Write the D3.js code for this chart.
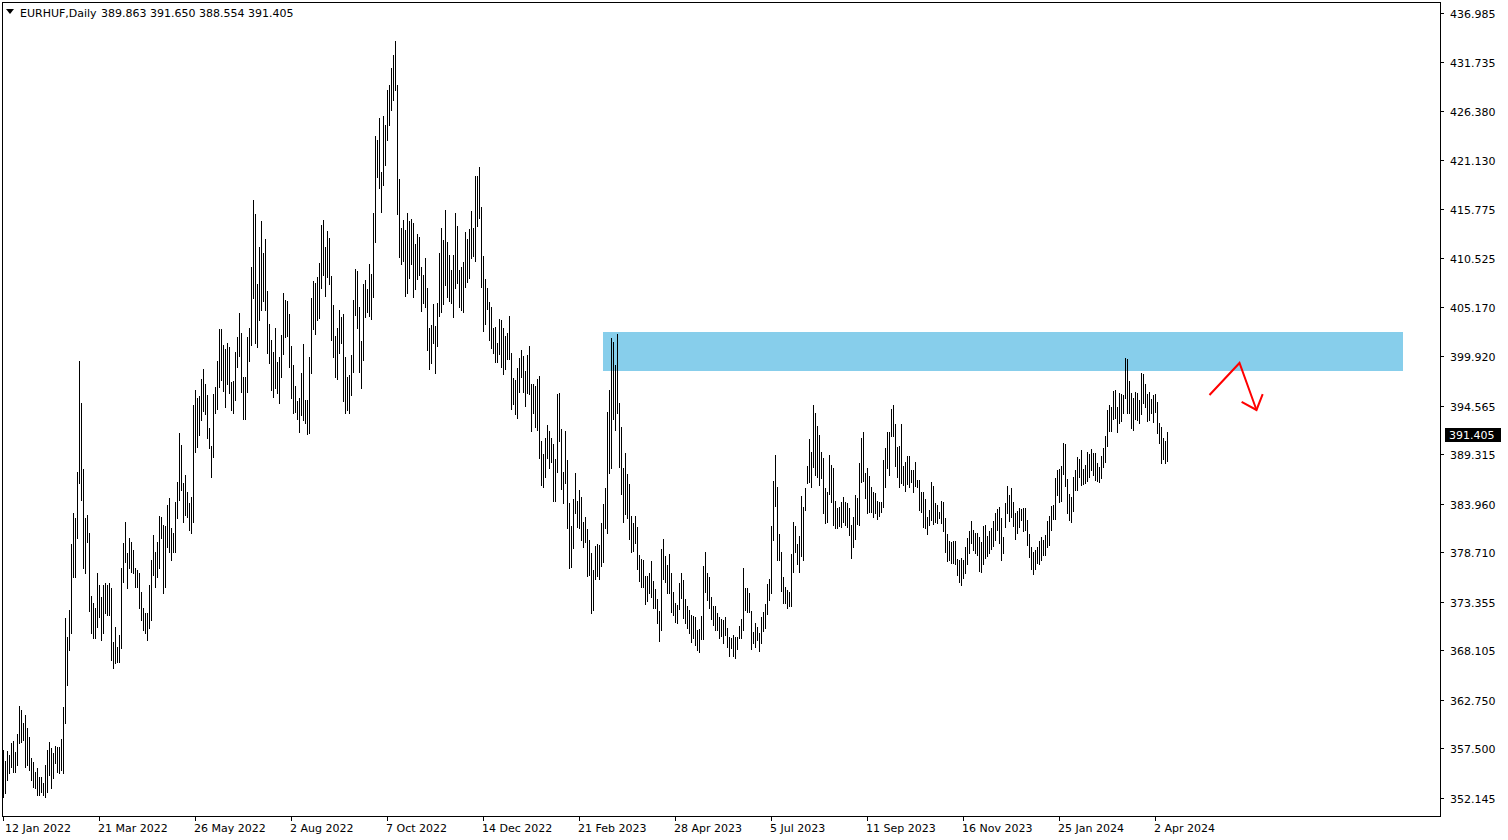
<!DOCTYPE html>
<html><head><meta charset="utf-8">
<script src="https://cdn.jsdelivr.net/npm/d3@7"></script>
<style>
html,body{margin:0;padding:0;background:#fff;}
svg{display:block;font-family:"DejaVu Sans",sans-serif;}
</style></head><body>
<svg id="c" width="1508" height="840"></svg>
<script>
const symbolTitle = "EURHUF,Daily";
const lastOHLC = [389.863, 391.650, 388.554, 391.405];
const currentPrice = 391.405;
const dateLabels = ["12 Jan 2022","21 Mar 2022","26 May 2022","2 Aug 2022","7 Oct 2022","14 Dec 2022","21 Feb 2023","28 Apr 2023","5 Jul 2023","11 Sep 2023","16 Nov 2023","25 Jan 2024","2 Apr 2024"];
const dateLabelBars = [0,48,96,144,192,240,288,336,384,432,480,528,576];
const priceTicks = [436.985,431.735,426.380,421.130,415.775,410.525,405.170,399.920,394.565,389.315,383.960,378.710,373.355,368.105,362.750,357.500,352.145];
const zoneBars = [300, 700];
const zonePrices = [402.5, 398.3];
const arrowBars = [603, 618, 626.5];
const arrowPrices = [395.7, 399.16, 394.08];

const highs = [
357.34,356.19,357.23,356.80,358.06,358.31,357.12,359.06,362.09,361.66,
360.22,361.12,359.68,358.78,356.51,356.08,354.99,355.35,354.45,354.45,
353.73,355.71,357.34,358.24,357.52,356.98,357.77,357.70,357.70,358.52,
362.02,371.56,369.58,372.46,379.60,382.91,382.37,387.41,399.41,394.80,
387.70,382.37,382.73,380.82,373.97,373.18,372.64,376.43,375.16,373.90,
375.16,375.34,375.16,375.34,374.80,369.04,370.66,368.50,369.76,376.97,
379.67,382.01,378.59,380.21,379.85,378.95,376.97,376.79,376.43,374.44,
372.64,372.10,372.10,375.16,377.87,380.57,378.77,379.85,382.62,382.55,
381.65,381.58,383.81,384.53,381.29,380.75,384.17,386.33,391.55,390.29,
386.15,387.05,385.25,383.99,384.71,394.62,396.24,395.34,395.59,397.39,
398.51,396.89,395.70,392.17,390.20,395.81,396.53,399.37,402.83,402.83,
401.10,400.67,401.28,400.92,397.07,397.21,400.31,402.00,404.56,402.36,
397.61,397.61,402.00,402.97,409.49,416.77,415.26,407.69,411.73,414.50,
411.01,412.56,406.97,403.37,401.64,400.38,402.97,399.23,399.77,402.18,
406.76,406.00,405.86,404.45,401.00,398.94,396.67,395.09,395.34,398.04,
401.21,395.16,395.16,399.77,406.14,408.02,407.76,408.48,409.93,414.07,
414.61,411.66,413.42,412.63,408.56,405.42,402.07,402.90,404.88,404.16,
404.45,399.84,397.68,397.86,400.02,405.96,409.31,409.13,405.24,401.53,
407.66,408.12,407.12,409.85,408.77,415.40,423.69,423.25,425.59,419.76,
425.85,424.88,428.66,429.20,431.04,432.45,433.96,429.20,419.05,413.72,
414.62,413.54,415.34,414.51,414.69,414.26,412.02,413.10,412.74,409.57,
408.67,410.55,407.30,402.91,403.27,405.54,403.16,405.61,411.01,413.79,
412.45,415.70,412.20,410.83,409.21,410.83,415.34,413.97,409.21,409.50,
410.04,413.28,412.56,413.61,415.62,413.72,419.41,419.41,420.38,415.98,
410.72,408.23,407.29,405.78,405.24,402.97,403.08,401.35,403.91,403.80,
402.90,402.07,402.43,404.27,400.27,397.50,397.32,398.58,399.73,400.56,
399.91,398.33,400.02,400.99,396.88,396.88,396.67,397.42,397.75,390.72,
389.32,391.01,392.45,391.80,391.08,390.40,388.78,395.80,395.95,392.02,
387.34,391.80,388.67,384.06,381.54,384.42,387.23,384.28,385.43,384.71,
382.01,382.55,381.18,380.03,378.59,376.79,379.38,379.59,379.49,381.90,
383.92,385.68,393.89,396.24,401.89,401.46,398.94,402.29,394.87,392.27,
387.84,389.39,387.16,386.08,382.62,381.90,382.62,381.40,378.41,377.94,
377.87,376.14,376.14,376.50,377.79,375.60,374.69,373.61,372.39,379.02,
380.10,378.30,377.33,378.51,376.50,374.45,373.19,373.01,375.42,376.50,
375.71,373.65,372.90,372.46,371.92,371.85,371.74,370.30,370.38,371.82,
377.22,378.73,376.50,376.07,373.91,372.90,372.90,372.18,371.67,371.46,
371.38,371.67,370.48,369.51,369.40,369.76,369.58,369.58,370.74,371.46,
376.97,374.81,374.81,374.27,372.39,370.12,371.10,370.66,369.94,371.67,
372.28,373.08,375.24,375.82,381.54,386.41,389.22,385.79,380.64,378.70,
376.07,374.99,374.63,374.38,378.52,382.01,381.54,379.56,380.46,384.82,
383.63,385.69,388.06,390.91,389.50,394.62,393.72,392.35,391.38,389.58,
388.86,385.61,385.25,389.22,388.14,387.85,384.25,383.45,383.56,384.10,
384.71,384.17,383.99,383.45,381.65,382.55,384.89,384.53,388.39,391.02,
391.74,387.31,387.85,386.98,385.79,385.25,385.07,384.25,384.17,384.10,
388.68,389.94,391.74,391.74,394.19,394.62,392.57,390.12,390.22,392.57,
388.06,388.50,389.11,389.11,387.60,387.60,388.42,386.51,386.51,385.25,
385.25,384.43,382.55,383.27,386.26,385.90,383.99,383.81,383.09,384.25,
384.17,382.37,380.64,379.96,379.85,379.96,379.95,377.94,377.86,378.04,
377.86,379.31,380.21,381.00,382.11,381.11,380.75,380.75,380.39,379.84,
381.54,381.65,380.46,381.00,381.36,382.08,382.91,383.34,383.63,382.44,
380.39,384.06,385.86,384.89,385.68,384.17,382.91,383.16,383.45,383.34,
383.45,383.45,382.19,380.64,379.31,378.76,378.94,379.23,379.95,380.39,
380.03,380.57,382.08,382.62,383.70,383.81,386.69,387.59,387.66,388.02,
390.47,390.40,386.58,385.00,384.71,386.80,387.59,388.96,388.78,389.75,
387.66,388.13,389.50,389.32,389.86,389.39,389.39,388.31,387.95,389.10,
389.93,391.27,394.07,394.61,394.36,396.13,396.24,394.36,395.95,395.80,
395.70,399.66,399.55,397.21,395.88,395.34,396.06,395.95,395.16,398.11,
397.96,396.85,395.80,396.06,395.23,395.70,395.80,394.97,392.63,392.20,
391.08,390.76,391.65];

const lows = [
352.29,352.65,354.09,354.81,355.53,354.99,354.99,355.71,358.06,358.24,
358.42,355.53,355.71,355.17,354.09,353.37,353.19,352.47,352.47,352.83,
352.47,352.29,352.83,354.63,353.19,354.27,355.89,354.99,354.81,355.17,
354.81,360.22,364.36,368.14,369.94,376.07,376.07,380.21,386.15,384.35,
376.97,376.43,379.78,372.39,369.94,369.40,369.40,370.66,371.74,369.22,
369.94,372.10,371.92,371.92,367.06,366.16,366.70,366.88,366.88,368.32,
375.52,377.69,374.80,376.97,376.61,376.43,374.98,374.98,372.64,371.38,
370.30,369.94,369.22,370.48,371.38,376.25,374.98,376.07,376.97,380.21,
374.26,374.98,379.31,378.77,377.87,378.77,378.77,382.37,384.35,385.43,
382.01,382.73,382.55,381.11,380.75,382.01,389.50,390.11,391.37,392.99,
394.00,393.64,391.01,389.93,386.80,389.00,393.79,394.19,396.60,397.32,
396.17,394.37,396.89,395.88,394.08,393.72,395.16,398.76,399.95,395.99,
393.14,393.14,395.99,399.41,401.10,406.22,401.28,400.92,403.80,404.88,
405.86,404.88,400.27,399.19,396.24,395.52,396.49,395.95,394.80,397.68,
400.09,402.00,402.11,398.76,395.34,393.79,393.90,393.07,391.74,393.54,
393.00,392.64,391.48,391.63,398.04,402.79,402.29,403.80,403.98,407.30,
408.66,406.43,408.41,407.66,401.64,399.84,397.68,397.43,400.27,401.28,
395.09,393.79,394.08,393.79,395.70,398.22,404.34,402.90,398.22,396.42,
399.48,404.16,404.70,404.23,403.87,406.32,412.27,419.22,418.03,415.51,
418.39,420.56,423.26,424.88,426.50,427.58,428.66,415.26,410.58,409.86,
410.22,406.44,406.76,408.38,409.86,406.33,407.12,408.20,408.67,404.82,
405.68,405.25,400.57,398.51,399.13,401.36,398.05,401.00,404.28,404.71,
405.54,407.59,406.33,405.90,405.61,404.10,407.30,407.84,405.25,404.89,
404.71,407.34,407.95,408.31,410.47,410.73,410.22,414.00,414.80,407.40,
402.65,403.33,404.99,401.64,400.74,400.20,399.23,399.23,400.13,398.76,
397.93,398.47,399.55,399.55,394.15,394.69,393.61,393.17,395.98,397.61,
395.98,394.54,395.88,395.77,391.84,393.71,392.27,391.91,388.92,385.97,
385.79,386.87,388.92,387.77,388.49,384.28,384.28,387.41,390.76,385.54,
383.99,386.22,381.36,376.96,377.07,379.13,382.98,381.47,381.29,380.03,
379.31,379.77,376.14,376.24,372.17,372.46,375.78,376.14,375.78,377.22,
377.69,381.29,380.82,387.30,387.84,393.10,391.91,393.79,387.95,385.00,
382.01,382.84,382.44,380.10,378.69,378.84,379.74,376.86,375.63,374.98,
374.98,373.11,373.47,374.26,373.83,372.64,372.64,371.02,369.15,370.30,
375.78,375.52,374.26,374.26,372.28,371.92,371.20,371.02,372.54,373.73,
371.64,371.02,370.48,369.94,369.04,369.47,368.68,368.14,367.89,369.30,
369.30,374.45,373.55,372.72,371.49,370.84,370.30,370.30,369.40,369.65,
368.86,369.76,368.50,367.53,368.32,367.49,367.24,368.21,369.40,369.47,
370.30,372.46,372.28,372.28,368.21,368.86,368.43,369.22,368.07,368.86,
370.23,370.50,372.00,373.55,374.27,380.03,383.74,377.87,377.87,374.52,
373.19,373.19,372.72,372.94,372.94,376.61,378.77,377.44,376.61,378.34,
377.87,383.27,386.15,386.26,385.79,387.96,387.06,386.87,385.97,386.69,
382.91,381.90,382.01,384.97,384.17,381.65,381.29,381.36,381.54,381.47,
381.94,381.65,381.47,380.57,378.12,379.31,380.14,381.72,381.65,386.26,
386.41,384.61,382.91,383.09,383.09,382.55,382.91,382.30,382.66,383.09,
383.63,385.79,387.78,387.06,391.31,391.31,388.06,386.87,385.79,386.15,
385.97,385.36,386.05,385.79,386.33,385.25,385.90,385.79,383.27,383.02,
381.47,381.36,380.64,381.65,382.19,381.72,382.01,381.83,382.37,381.83,
381.00,378.77,377.76,377.87,377.51,377.51,377.40,376.24,375.52,375.16,
375.88,376.42,377.40,378.59,379.67,378.94,378.59,378.40,376.71,376.60,
377.43,378.04,378.30,378.66,379.02,379.38,380.03,381.11,379.67,377.86,
378.66,381.47,382.91,382.11,382.55,381.54,380.13,380.75,381.47,382.19,
381.00,381.11,379.49,378.15,376.89,376.35,376.86,377.50,377.40,377.86,
378.40,378.40,379.31,379.49,381.11,382.26,382.30,384.89,384.17,384.28,
387.16,385.86,382.98,382.19,382.01,383.20,385.43,385.43,386.87,385.97,
386.04,386.15,386.44,386.87,387.59,387.05,386.51,386.40,386.33,386.76,
387.95,388.49,390.22,391.84,391.84,393.07,393.17,391.73,392.71,392.92,
393.71,395.34,393.79,393.71,392.17,391.91,393.07,392.99,392.71,393.64,
394.87,394.36,392.92,392.99,393.79,392.81,393.89,391.62,390.54,388.31,
388.74,388.38,388.554];

const svg = d3.select("#c");
const W = 1508, H = 840;
const plotL = 2, plotR = 1440, plotT = 2, plotB = 816;

const x = d3.scaleLinear().domain([0, 700]).range([3.5, 1403.5]);
const y = d3.scaleLinear().domain([352.145, 436.985]).range([798, 13]);

svg.append("rect").attr("width", W).attr("height", H).attr("fill", "#fff");

// support / resistance zone
svg.append("rect")
  .attr("x", Math.round(x(zoneBars[0]) - 0.5))
  .attr("y", Math.round(y(zonePrices[0])))
  .attr("width", Math.round(x(zoneBars[1]) - x(zoneBars[0])))
  .attr("height", Math.round(y(zonePrices[1]) - y(zonePrices[0])))
  .attr("fill", "#87CEEB");

// high-low bars
const bars = highs.map((h, i) => ({i, h, l: lows[i]}));
svg.append("g").attr("shape-rendering", "crispEdges")
  .selectAll("line").data(bars).join("line")
  .attr("x1", d => x(d.i)).attr("x2", d => x(d.i))
  .attr("y1", d => Math.round(y(d.h)))
  .attr("y2", d => Math.round(y(d.l)) + 1)
  .attr("stroke", "#000").attr("stroke-width", 1);

// red arrow
const pts = arrowBars.map((b, k) => [x(b), y(arrowPrices[k])]);
svg.append("path").attr("d", d3.line()(pts))
  .attr("fill", "none").attr("stroke", "#ff0000").attr("stroke-width", 2)
  .attr("stroke-linejoin", "miter");
{
  const [x1, y1] = pts[1], [x2, y2] = pts[2];
  const ang = Math.atan2(y1 - y2, x1 - x2);
  const len = 17;
  const wings = [ang - 0.72, ang + 0.72].map(a => [x2 + len * Math.cos(a), y2 + len * Math.sin(a)]);
  svg.append("path").attr("d", d3.line()([wings[0], [x2, y2], wings[1]]))
    .attr("fill", "none").attr("stroke", "#ff0000").attr("stroke-width", 2);
}

// frame
svg.append("rect").attr("x", plotL + 0.5).attr("y", plotT + 0.5)
  .attr("width", plotR - plotL).attr("height", plotB - plotT)
  .attr("fill", "none").attr("stroke", "#000").attr("stroke-width", 1)
  .attr("shape-rendering", "crispEdges");

// right price axis
const ya = svg.append("g").attr("shape-rendering", "crispEdges");
priceTicks.forEach(v => {
  const py = Math.round(y(v)) + 0.5;
  ya.append("line").attr("x1", plotR).attr("x2", plotR + 4).attr("y1", py).attr("y2", py).attr("stroke", "#000");
  svg.append("text").attr("x", 1450).attr("y", py + 4).attr("font-size", 11).attr("fill", "#000").text(v.toFixed(3));
});

// current price label
{
  const py = Math.round(y(currentPrice));
  svg.append("rect").attr("x", 1445).attr("y", py - 7).attr("width", 56).attr("height", 14).attr("fill", "#000");
  svg.append("text").attr("x", 1449).attr("y", py + 4).attr("font-size", 11).attr("fill", "#fff").text(currentPrice.toFixed(3));
}

// bottom date axis
const xa = svg.append("g").attr("shape-rendering", "crispEdges");
dateLabelBars.forEach((b, k) => {
  const px = x(b);
  xa.append("line").attr("x1", px).attr("x2", px).attr("y1", plotB).attr("y2", plotB + 5).attr("stroke", "#000");
  svg.append("text").attr("x", k === 0 ? 5 : px - 1.5).attr("y", 832).attr("font-size", 11).attr("fill", "#000").text(dateLabels[k]);
});

// header
svg.append("path").attr("d", "M6,9 L14,9 L10,14 Z").attr("fill", "#000");
svg.append("text").attr("x", 20).attr("y", 17).attr("font-size", 11).attr("fill", "#000").text(symbolTitle);
svg.append("text").attr("x", 101).attr("y", 17).attr("font-size", 11).attr("fill", "#000")
  .text(lastOHLC.map(v => v.toFixed(3)).join(" "));
</script>
</body></html>
